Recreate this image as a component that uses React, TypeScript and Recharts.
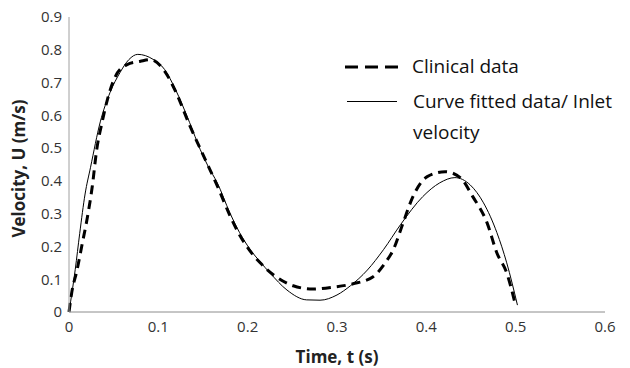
import React from 'react';
import { ComposedChart, Line, XAxis, YAxis, Legend } from 'recharts';

// Clinical data (dashed)
const clinicalTime = [0, 0.003, 0.009, 0.015, 0.02, 0.026, 0.031, 0.037, 0.043, 0.052, 0.065, 0.08, 0.091, 0.107, 0.119, 0.135, 0.15, 0.166, 0.18, 0.191, 0.203, 0.214, 0.229, 0.251, 0.273, 0.296, 0.318, 0.34, 0.354, 0.363, 0.374, 0.385, 0.401, 0.421, 0.438, 0.452, 0.468, 0.479, 0.49, 0.499];
const clinicalVel = [0, 0.058, 0.128, 0.211, 0.28, 0.382, 0.495, 0.578, 0.648, 0.719, 0.755, 0.765, 0.77, 0.735, 0.675, 0.57, 0.48, 0.385, 0.295, 0.235, 0.185, 0.15, 0.113, 0.08, 0.07, 0.076, 0.086, 0.107, 0.15, 0.19, 0.272, 0.352, 0.413, 0.428, 0.41, 0.352, 0.272, 0.18, 0.119, 0.03];

// Curve fitted data / inlet velocity (solid)
const fittedTime = [0, 0.007, 0.012, 0.018, 0.024, 0.035, 0.046, 0.057, 0.067, 0.077, 0.094, 0.107, 0.119, 0.135, 0.147, 0.156, 0.166, 0.18, 0.191, 0.203, 0.214, 0.225, 0.244, 0.266, 0.281, 0.3, 0.315, 0.334, 0.352, 0.371, 0.396, 0.415, 0.432, 0.449, 0.464, 0.479, 0.49, 0.502];
const fittedVel = [0, 0.13, 0.24, 0.36, 0.44, 0.58, 0.67, 0.73, 0.77, 0.786, 0.771, 0.74, 0.68, 0.578, 0.495, 0.443, 0.394, 0.303, 0.242, 0.19, 0.153, 0.119, 0.067, 0.037, 0.036, 0.052, 0.08, 0.128, 0.19, 0.266, 0.352, 0.394, 0.41, 0.388, 0.333, 0.242, 0.15, 0.021];

const xTicks = [0, 0.1, 0.2, 0.3, 0.4, 0.5, 0.6];
const yTicks = [0, 0.1, 0.2, 0.3, 0.4, 0.5, 0.6, 0.7, 0.8, 0.9];

const clinical = clinicalTime.map((t, i) => ({ t, v: clinicalVel[i] }));
const fitted = fittedTime.map((t, i) => ({ t, v: fittedVel[i] }));

const font = '"Open Sans", sans-serif';

const LegendBox = () => (
  <div style={{ fontFamily: font, fontSize: 19, color: '#111', lineHeight: '31px' }}>
    <div style={{ display: 'flex', alignItems: 'center', marginBottom: 4 }}>
      <svg width={67} height={10} style={{ flex: 'none' }}>
        <line x1={0} y1={5} x2={53} y2={5} stroke="#000" strokeWidth={3} strokeDasharray="13 7" />
      </svg>
      <span>Clinical data</span>
    </div>
    <div style={{ display: 'flex', alignItems: 'flex-start' }}>
      <svg width={68} height={31} style={{ flex: 'none' }}>
        <line x1={2} y1={15.5} x2={52} y2={15.5} stroke="#000" strokeWidth={1} />
      </svg>
      <span>Curve fitted data/ Inlet<br />velocity</span>
    </div>
  </div>
);

const YTitle = ({ viewBox }: any) => {
  const cy = viewBox.y + viewBox.height / 2 + 4;
  return (
    <text
      x={18}
      y={cy}
      transform={`rotate(-90 18 ${cy})`}
      textAnchor="middle"
      dominantBaseline="central"
      fill="#222"
      fontSize={17}
      fontWeight="bold"
      fontFamily={font}
    >
      Velocity, U (m/s)
    </text>
  );
};

export default function App() {
  return (
    <div style={{ position: 'absolute', left: 0, top: 0, background: '#fff' }}>
      <ComposedChart width={630} height={368} margin={{ top: 17, right: 25, left: 0, bottom: 0 }}>
        <XAxis
          dataKey="t"
          type="number"
          domain={[0, 0.6]}
          ticks={xTicks}
          tickLine={false}
          tickSize={0}
          tickMargin={9}
          height={56}
          stroke="#8c8c8c"
          tick={{ fill: '#333', fontSize: 15, fontFamily: font }}
          label={{ value: 'Time, t (s)', position: 'insideBottom', offset: 5, fill: '#222', fontSize: 17, fontWeight: 'bold', fontFamily: font }}
        />
        <YAxis
          type="number"
          domain={[0, 0.9]}
          ticks={yTicks}
          tickLine={false}
          tickSize={0}
          tickMargin={7}
          width={69}
          stroke="#a0a0a0"
          tick={{ fill: '#333', fontSize: 15, fontFamily: font }}
          label={<YTitle />}
        />
        <Legend
          layout="horizontal"
          verticalAlign="middle"
          align="center"
          content={() => <LegendBox />}
          wrapperStyle={{ position: 'absolute', left: 345, top: 51, width: 285 }}
        />
        <Line data={clinical} dataKey="v" type="monotone" stroke="#000" strokeWidth={3} strokeDasharray="9 6" dot={false} isAnimationActive={false} />
        <Line data={fitted} dataKey="v" type="monotone" stroke="#000" strokeWidth={1} dot={false} isAnimationActive={false} />
      </ComposedChart>
    </div>
  );
}
